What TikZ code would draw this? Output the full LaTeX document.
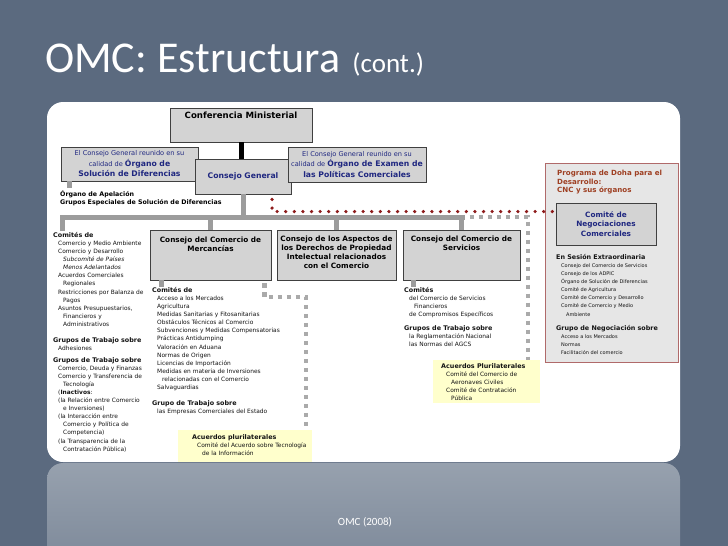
\documentclass[tikz,border=0pt]{standalone}
\usepackage{fontspec}
\setmainfont{DejaVu Sans}
\newfontfamily\titlefont{Carlito}
\usetikzlibrary{positioning, calc}
\definecolor{slate}{HTML}{5B6A7F}
\definecolor{mirror}{HTML}{97A1AE}
\definecolor{navy}{HTML}{1F2780}
\definecolor{boxgray}{HTML}{D3D3D3}
\definecolor{linkgray}{HTML}{9C9C9C}
\definecolor{dotgray}{HTML}{AAAAAA}
\definecolor{dotred}{HTML}{8E1B1B}
\definecolor{dohared}{HTML}{9E3F22}
\definecolor{dohaline}{HTML}{B06A6A}
\definecolor{dohafill}{HTML}{E6E6E6}
\definecolor{pluri}{HTML}{FFFFCC}
\newcommand{\hdr}{\fontsize{6.4}{8.1}\selectfont\bfseries}
\newcommand{\itm}{\fontsize{5.9}{8.1}\selectfont\mdseries}
\newcommand{\dit}{\fontsize{5.0}{8.1}\selectfont\mdseries}
\newcommand{\cgb}{\fontsize{7.7}{10.5}\selectfont\bfseries}
\newcommand{\ind}{\hspace*{5pt}}

\begin{document}
\begin{tikzpicture}[
    x=1pt, y=-1pt,
    node distance=4pt,
    cbox/.style={draw=black!75, fill=boxgray, line width=0.9pt, inner sep=0pt},
    ctitle/.style={align=center, inner sep=0pt, font=\fontsize{7.3}{9}\selectfont\bfseries},
    navybox/.style={cbox, align=center, text=navy, font=\fontsize{6.6}{10.5}\selectfont},
    txt/.style={anchor=north west, align=left, inner sep=0pt, text=black!92, font=\itm},
    link/.style={draw=linkgray, line width=5pt},
    gdots/.style={draw=dotgray, line width=4.5pt, dash pattern=on 4.5pt off 4.5pt},
    rdots/.style={draw=dotred, line width=3.6pt, line cap=round, dash pattern=on 0pt off 8.6pt}
  ]
    \fill[slate] (0,0) rectangle (728,546);
    \useasboundingbox (0,0) rectangle (728,546);
    \begin{scope}
      \clip (0,0) rectangle (728,546);
      \shade[top color=mirror, bottom color=slate!88!white, rounded corners=16pt] (47,463) rectangle (680,620);
    \end{scope}
    \fill[white, rounded corners=16pt] (47,102) rectangle (680,462);

    \node[anchor=base west, text=white, inner sep=0pt, font=\titlefont\fontsize{44}{44}\selectfont] (title) at (45,72)
      {OMC: Estructura \hspace{2pt}{\fontsize{27}{27}\selectfont(cont.)}};
    \node[text=white, font=\titlefont\fontsize{11}{12}\selectfont] (src) at (365,522) {OMC (2008)};

    % top of the chart
    \node[cbox, minimum width=142pt, minimum height=34pt] (conf) at (241,125) {};
    \node[ctitle, font=\fontsize{8.6}{10}\selectfont\bfseries, below=4pt of conf.north] (confT) {Conferencia Ministerial};
    \node[navybox, minimum width=137pt, minimum height=34pt] (osd) at (129.5,164)
      {El Consejo General reunido en su\\calidad de {\cgb Órgano de}\\{\cgb Solución de Diferencias}};
    \draw[black, line width=5pt] (conf.south) -- ++(0,17) coordinate (cgtop);
    \node[navybox, minimum width=96pt, minimum height=35pt, font=\cgb] (cg) at (243,176.5) {Consejo General};
    \node[navybox, minimum width=138pt, minimum height=35pt] (epc) at (357,164.5)
      {El Consejo General reunido en su\\calidad de {\cgb Órgano de Examen de}\\{\cgb las Políticas Comerciales}};

    \coordinate (osdstub) at (69,188);
    \draw[link] (osd.south -| osdstub) -- (osdstub);
    \node[txt, text=black, font=\fontsize{6.3}{8}\selectfont\bfseries] (apel) at (60,190)
      {Órgano de Apelación\\Grupos Especiales de Solución de Diferencias};

    % councils
    \node[cbox, minimum width=121pt, minimum height=50pt] (merc) at (210.5,255) {};
    \node[ctitle, below=7pt of merc.north] (mercT) {Consejo del Comercio de\\Mercancías};
    \node[cbox, minimum width=119pt, minimum height=50pt] (adpic) at (336.5,255) {};
    \node[ctitle, below=6pt of adpic.north] (adpicT) {Consejo de los Aspectos de\\los Derechos de Propiedad\\Intelectual relacionados\\con el Comercio};
    \node[cbox, minimum width=117pt, minimum height=50pt] (serv) at (461.5,255) {};
    \node[ctitle, below=6pt of serv.north] (servT) {Consejo del Comercio de\\Servicios};

    \coordinate (barR) at (465,217);
    \coordinate (barE) at (528,217);
    \coordinate (lstub) at (62,231);
    \coordinate (mstub) at (161,287);
    \coordinate (sstub) at (413,287);
    \draw[link] (cg.south) -- (cg.south |- barR);
    \draw[link] (lstub) |- (barR);
    \draw[link] (merc.north |- barR) -- (merc.north);
    \draw[link] (adpic.north |- barR) -- (adpic.north);
    \draw[link] (serv.north |- barR) -- (serv.north);
    \draw[link] (merc.south -| mstub) -- (mstub);
    \draw[link] (serv.south -| sstub) -- (sstub);

    % committees
    \node[txt] (comL) at (53,232) {{\hdr Comités de}\\
      \ind Comercio y Medio Ambiente\\
      \ind Comercio y Desarrollo\\
      \ind\ind{\itshape Subcomité de Países}\\
      \ind\ind{\itshape Menos Adelantados}\\
      \ind Acuerdos Comerciales\\
      \ind\ind Regionales\\
      \ind Restricciones por Balanza de\\
      \ind\ind Pagos\\
      \ind Asuntos Presupuestarios,\\
      \ind\ind Financieros y\\
      \ind\ind Administrativos};
    \node[txt] (gtL1) at (53,337) {{\hdr Grupos de Trabajo sobre}\\
      \ind Adhesiones};
    \node[txt] (gtL2) at (53,357) {{\hdr Grupos de Trabajo sobre}\\
      \ind Comercio, Deuda y Finanzas\\
      \ind Comercio y Transferencia de\\
      \ind\ind Tecnología\\
      \ind({\bfseries Inactivos}:\\
      \ind(la Relación entre Comercio\\
      \ind\ind e Inversiones)\\
      \ind(la Interacción entre\\
      \ind\ind Comercio y Política de\\
      \ind\ind Competencia)\\
      \ind(la Transparencia de la\\
      \ind\ind Contratación Pública)};

    \node[txt] (comM) at (152,287) {{\hdr Comités de}\\
      \ind Acceso a los Mercados\\
      \ind Agricultura\\
      \ind Medidas Sanitarias y Fitosanitarias\\
      \ind Obstáculos Técnicos al Comercio\\
      \ind Subvenciones y Medidas Compensatorias\\
      \ind Prácticas Antidumping\\
      \ind Valoración en Aduana\\
      \ind Normas de Origen\\
      \ind Licencias de Importación\\
      \ind Medidas en materia de Inversiones\\
      \ind\ind relacionadas con el Comercio\\
      \ind Salvaguardias};
    \node[txt] (gtM) at (152,400) {{\hdr Grupo de Trabajo sobre}\\
      \ind las Empresas Comerciales del Estado};

    \node[txt] (comS) at (404,287) {{\hdr Comités}\\
      \ind del Comercio de Servicios\\
      \ind\ind Financieros\\
      \ind de Compromisos Específicos};
    \node[txt] (gtS) at (404,325) {{\hdr Grupos de Trabajo sobre}\\
      \ind la Reglamentación Nacional\\
      \ind las Normas del AGCS};

    % plurilateral agreements
    \node[fill=pluri, minimum width=134pt, minimum height=32pt, inner sep=0pt] (pluriA) at (245,446) {};
    \node[txt] (pluriAT) at (192,434) {{\hdr Acuerdos plurilaterales}\\
      \ind Comité del Acuerdo sobre Tecnología\\
      \ind\ind de la Información};
    \node[fill=pluri, minimum width=107pt, minimum height=43pt, inner sep=0pt] (pluriB) at (486.5,381.5) {};
    \node[txt] (pluriBT) at (441,363) {{\hdr Acuerdos Plurilaterales}\\
      \ind Comité del Comercio de\\
      \ind\ind Aeronaves Civiles\\
      \ind Comité de Contratación\\
      \ind\ind Pública};

    \coordinate (mq) at ($(merc.south east)+(-7,3)$);
    \coordinate (mk) at (306,297);
    \draw[gdots] (mq) |- (mk) -- (mk |- pluriA.north);
    \draw[gdots, dash phase=4.5pt] (barR) -- (barE) -- (barE |- pluriB.north);

    % Doha
    \node[draw=dohaline, fill=dohafill, line width=1pt, minimum width=133pt, minimum height=199pt, inner sep=0pt] (doha) at (611.5,262.5) {};
    \node[txt, text=dohared, font=\fontsize{7.1}{8.6}\selectfont\bfseries] (dohaT) at (557,170)
      {Programa de Doha para el\\Desarrollo:\\CNC y sus órganos};
    \node[navybox, minimum width=100pt, minimum height=42pt, font=\fontsize{7.3}{9.5}\selectfont\bfseries] (cnc) at (606,224)
      {Comité de\\Negociaciones\\Comerciales};
    \node[txt, font=\dit] (sesion) at (556,254) {{\hdr En Sesión Extraordinaria}\\
      \ind Consejo del Comercio de Servicios\\
      \ind Consejo de los ADPIC\\
      \ind Órgano de Solución de Diferencias\\
      \ind Comité de Agricultura\\
      \ind Comité de Comercio y Desarrollo\\
      \ind Comité de Comercio y Medio\\
      \ind\ind Ambiente};
    \node[txt, font=\dit] (negoc) at (556,325) {{\hdr Grupo de Negociación sobre}\\
      \ind Acceso a los Mercados\\
      \ind Normas\\
      \ind Facilitación del comercio};

    \coordinate (rd0) at ($(cg.south)+(29,5)$);
    \coordinate (rd1) at ($(cnc.north west)+(0,9)$);
    \draw[rdots] (rd0) |- (rd1);
  \end{tikzpicture}
\end{document}
